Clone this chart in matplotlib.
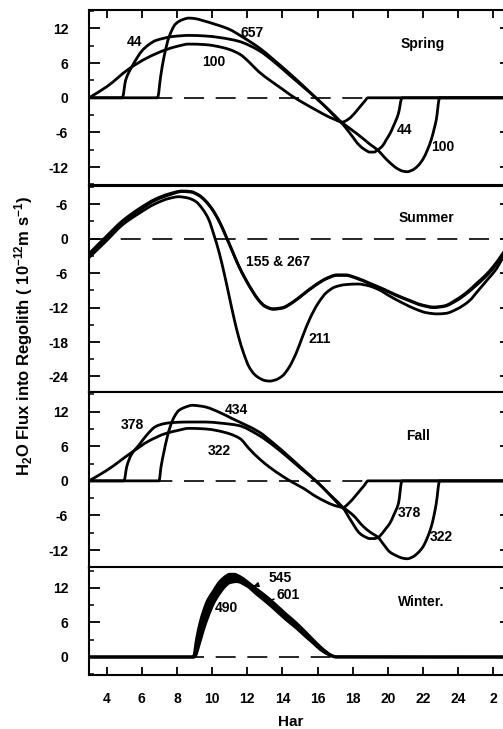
import numpy as np
import matplotlib
matplotlib.use("Agg")
import matplotlib.pyplot as plt
from matplotlib.path import Path
from matplotlib.patches import PathPatch
from matplotlib.ticker import FixedLocator, FixedFormatter, MultipleLocator

plt.rcParams['font.family'] = ['Liberation Sans', 'DejaVu Sans']
plt.rcParams['font.weight'] = 'bold'
plt.rcParams['mathtext.default'] = 'regular'

# ---- data (hour of day, flux in 1e-12 m/s) ----
# Spring
spring_657_h = [3, 6.9, 7.07, 7.26, 7.55, 7.93, 8.3, 8.68, 9.05, 9.44, 10.2, 10.95, 11.8, 12.7, 13.5,
                14.3, 15.1, 15.9, 16.6, 17.0, 17.4, 17.8, 18.1, 18.4, 18.65, 18.87, 27]
spring_657_v = [0, 0, 3.6, 7.0, 10.5, 12.8, 13.5, 13.8, 13.7, 13.4, 12.7, 11.9, 10.4, 8.6, 6.6,
                4.5, 2.3, 0, -2.0, -3.3, -4.2, -3.6, -2.7, -1.6, -0.7, 0, 0]
spring_44_h = [3, 4.9, 5.08, 5.25, 5.46, 5.75, 6.03, 6.4, 6.78, 7.25, 7.73, 8.7, 9.63, 10.5, 11.5,
               12.66, 13.5, 14.3, 15.1, 15.9, 16.6, 17.3, 17.83, 18.4, 18.7, 18.97, 19.2, 19.44,
               19.7, 19.9, 20.1, 20.3, 20.6, 20.8, 27]
spring_44_v = [0, 0, 3.0, 4.3, 5.5, 7.0, 8.2, 9.2, 9.9, 10.3, 10.6, 10.8, 10.7, 10.4, 9.8,
               8.2, 6.3, 4.2, 2.1, 0, -2.0, -4.1, -6.1, -8.3, -9.0, -9.4, -9.4, -9.0,
               -8.3, -7.3, -6.3, -5.0, -2.7, 0, 0]
spring_100_h = [3, 4, 5.27, 6.3, 7.35, 8.0, 8.68, 9.63, 10.3, 10.95, 11.6, 12.1, 12.66, 13.3, 14.0,
                14.6, 15.2, 15.9, 16.7, 17.3, 17.83, 18.6, 19.0, 19.44, 19.8, 20.1, 20.5, 20.85,
                21.1, 21.4, 21.7, 22.0, 22.25, 22.47, 22.62, 22.75, 22.94, 27]
spring_100_v = [0, 1.9, 5.0, 6.9, 8.3, 8.9, 9.3, 9.2, 8.9, 8.4, 7.5, 6.2, 4.5, 3.0, 1.5,
                0.2, -0.9, -2.1, -3.4, -4.2, -5.3, -7.1, -8.1, -9.1, -10.3, -11.2, -12.2, -12.7,
                -12.8, -12.5, -11.8, -10.6, -9.0, -7.2, -5.5, -3.8, 0, 0]

# Summer
summer_155_h = [3, 3.95, 4.9, 5.84, 6.78, 7.55, 8.3, 8.8, 9.25, 9.6, 10.0, 10.4, 10.77, 11.15, 11.5,
                11.9, 12.3, 12.66, 13.0, 13.47, 14.0, 14.6, 15.2, 15.9, 16.5, 17.1, 17.6, 18.2,
                19.0, 19.7, 20.4, 21.2, 21.9, 22.6, 23.2, 23.9, 24.5, 25.0, 25.5, 25.98, 26.5, 27]
summer_155_v = [-3.0, -0.1, 2.8, 4.9, 6.7, 7.6, 8.2, 8.1, 7.5, 6.6, 5.1, 3.0, 0.5, -2.2, -4.7,
                -7.1, -9.2, -10.8, -11.8, -12.3, -12.1, -11.1, -9.7, -8.1, -7.0, -6.4, -6.4, -6.9,
                -7.9, -8.8, -9.8, -10.8, -11.6, -12.0, -11.8, -10.8, -9.5, -8.2, -6.8, -5.2, -3.0, -0.8]
summer_267_h = [3, 3.95, 4.9, 5.84, 6.78, 7.55, 8.3, 8.8, 9.25, 9.6, 10.0, 10.4, 10.77, 11.15, 11.5,
                11.9, 12.3, 12.66, 13.0, 13.47, 14.0, 14.6, 15.2, 15.9, 16.5, 17.1, 17.6, 18.2,
                19.0, 19.7, 20.4, 21.2, 21.9, 22.6, 23.2, 23.9, 24.5, 25.0, 25.5, 25.98, 26.5, 27]
summer_267_v = [-2.6, 0.3, 3.1, 5.2, 6.9, 7.8, 8.3, 8.2, 7.6, 6.7, 5.2, 3.1, 0.6, -2.1, -4.6,
                -7.0, -9.1, -10.7, -11.7, -12.2, -12.0, -11.0, -9.6, -8.0, -6.9, -6.3, -6.3, -6.8,
                -7.8, -8.7, -9.7, -10.7, -11.5, -11.9, -11.7, -10.6, -9.3, -7.9, -6.5, -4.9, -2.7, -0.5]
summer_211_h = [3, 3.95, 4.9, 5.84, 6.78, 7.55, 8.1, 8.6, 9.06, 9.45, 9.8, 10.1, 10.4, 10.7, 10.95,
                11.25, 11.5, 11.8, 12.1, 12.4, 12.7, 13.0, 13.28, 13.6, 14.0, 14.4, 14.8, 15.15,
                15.55, 16.0, 16.5, 17.0, 17.6, 18.3, 18.9, 19.5, 20.1, 20.9, 21.6, 22.2, 22.8,
                23.3, 23.9, 24.6, 25.2, 25.7, 26.16, 26.5, 27]
summer_211_v = [-3.3, -0.5, 2.4, 4.4, 6.1, 7.0, 7.3, 7.1, 6.5, 5.2, 3.4, 0.7, -2.4, -6.2, -9.7,
                -13.9, -17.0, -20.0, -22.3, -23.6, -24.3, -24.7, -24.8, -24.6, -23.9, -22.3, -19.8, -17.0,
                -14.0, -11.4, -9.4, -8.4, -8.0, -7.9, -8.2, -8.9, -10.0, -11.3, -12.3, -12.9, -13.1,
                -13.0, -12.3, -10.9, -8.8, -7.0, -5.3, -3.5, -1.2]

# Fall
fall_434_h = [3, 6.98, 7.1, 7.26, 7.45, 7.64, 7.85, 8.11, 8.5, 8.87, 9.25, 9.63, 10.4, 11.14, 11.9,
              12.66, 13.5, 14.3, 15.1, 15.9, 16.6, 17.0, 17.45, 17.8, 18.1, 18.4, 18.65, 18.87, 27]
fall_434_v = [0, 0, 2.5, 5.0, 7.6, 9.6, 11.1, 12.2, 12.8, 13.1, 13.0, 12.8, 11.9, 10.8, 9.7,
              8.5, 6.5, 4.4, 2.2, 0, -2.1, -3.4, -4.6, -3.8, -2.8, -1.7, -0.8, 0, 0]
fall_378_h = [3, 4.99, 5.15, 5.4, 5.84, 6.3, 6.78, 7.25, 7.73, 8.7, 9.63, 10.5, 11.5, 12.66, 13.5,
              14.3, 15.1, 15.9, 16.6, 17.45, 17.9, 18.4, 18.7, 18.97, 19.2, 19.44, 19.7, 19.9,
              20.1, 20.35, 20.6, 20.8, 27]
fall_378_v = [0, 0, 2.5, 4.5, 6.2, 8.0, 9.4, 9.9, 10.1, 10.2, 10.2, 10.0, 9.6, 7.9, 6.1,
              4.1, 2.0, 0, -2.1, -4.7, -6.9, -9.1, -9.7, -10.0, -10.0, -9.8, -9.0, -8.2,
              -7.4, -5.8, -3.9, 0, 0]
fall_322_h = [3, 4, 5.46, 6.4, 7.35, 8.0, 8.68, 9.63, 10.3, 10.95, 11.6, 12.1, 12.66, 13.3, 14.04,
              14.6, 15.2, 15.9, 16.9, 17.45, 18.0, 18.6, 19.0, 19.44, 19.8, 20.1, 20.5, 20.85,
              21.1, 21.4, 21.7, 22.0, 22.25, 22.47, 22.62, 22.75, 22.94, 27]
fall_322_v = [0, 1.8, 5.0, 6.9, 8.2, 8.7, 9.1, 9.0, 8.7, 8.2, 7.3, 5.6, 3.9, 2.3, 0.75,
              -0.3, -1.3, -2.7, -4.2, -4.7, -5.9, -7.9, -8.9, -9.8, -11.2, -12.3, -13.0, -13.4,
              -13.5, -13.2, -12.5, -11.4, -9.8, -7.9, -6.0, -3.9, 0, 0]

# Winter
winter_545_h = [3, 8.93, 9.12, 9.3, 9.5, 9.75, 10.06, 10.35, 10.63, 10.85, 11.0, 11.25, 11.58, 12.0,
                12.5, 13.1, 13.66, 14.2, 14.8, 15.3, 15.75, 16.15, 16.5, 16.8, 17.07, 27]
winter_545_v = [0, 0, 3.2, 5.8, 7.9, 9.9, 11.4, 12.8, 13.7, 14.2, 14.4, 14.4, 14.0, 13.1,
                11.9, 10.5, 9.0, 7.5, 5.9, 4.4, 3.0, 1.8, 0.9, 0.3, 0.05, 0]
winter_601_h = [3, 8.96, 9.2, 9.4, 9.65, 9.9, 10.25, 10.55, 10.85, 11.1, 11.5, 12.0, 12.5, 13.1,
                13.66, 14.2, 14.8, 15.3, 15.75, 16.15, 16.5, 16.8, 17.03, 27]
winter_601_v = [0, 0, 2.7, 5.0, 7.3, 9.3, 11.3, 12.7, 13.5, 13.8, 13.6, 12.7, 11.4, 10.0,
                8.5, 7.0, 5.4, 4.0, 2.7, 1.5, 0.7, 0.2, 0, 0]
winter_490_h = [3, 9.0, 9.3, 9.5, 9.77, 10.1, 10.44, 10.75, 11.0, 11.4, 12.0, 12.5, 13.1, 13.66,
                14.2, 14.8, 15.3, 15.75, 16.15, 16.5, 16.8, 17.0, 27]
winter_490_v = [0, 0, 2.5, 4.6, 7.0, 9.4, 11.1, 12.3, 12.9, 13.1, 12.3, 11.0, 9.5, 8.0,
                6.5, 5.0, 3.6, 2.4, 1.3, 0.6, 0.2, 0, 0]

x_ticks = [4, 6, 8, 10, 12, 14, 16, 18, 20, 22, 24, 26]
x_labels = ['4', '6', '8', '10', '12', '14', '16', '18', '20', '22', '24', '2']

W, H = 503, 729
fig = plt.figure(figsize=(W / 100, H / 100), dpi=100)


def bezier_verts(h, v):
    # monotone cubic (pchip-style) tangents, written as Bezier control points
    x = np.asarray(h, float)
    y = np.asarray(v, float)
    dx = np.diff(x)
    d = np.diff(y) / dx
    m = np.zeros_like(y)
    m[0], m[-1] = d[0], d[-1]
    for k in range(1, len(x) - 1):
        if d[k - 1] * d[k] > 0:
            w1 = 2 * dx[k] + dx[k - 1]
            w2 = dx[k] + 2 * dx[k - 1]
            m[k] = (w1 + w2) / (w1 / d[k - 1] + w2 / d[k])
    verts = [(x[0], y[0])]
    for k in range(len(dx)):
        t = dx[k] / 3
        verts += [(x[k] + t, y[k] + m[k] * t), (x[k + 1] - t, y[k + 1] - m[k + 1] * t),
                  (x[k + 1], y[k + 1])]
    return verts


def curve(ax, h, v, lw=2.0):
    verts = bezier_verts(h, v)
    codes = [Path.MOVETO] + [Path.CURVE4] * (len(verts) - 1)
    ax.add_patch(PathPatch(Path(verts, codes), fill=False, edgecolor='black', lw=lw,
                           joinstyle='round', capstyle='butt', zorder=3))


def band(ax, h1, v1, h2, v2):
    a = bezier_verts(h1, v1)
    b = bezier_verts(h2, v2)[::-1]
    verts = a + b + [a[0]]
    codes = ([Path.MOVETO] + [Path.CURVE4] * (len(a) - 1) + [Path.LINETO]
             + [Path.CURVE4] * (len(b) - 1) + [Path.CLOSEPOLY])
    ax.add_patch(PathPatch(Path(verts, codes), facecolor='black', edgecolor='none', zorder=3))


def panel(top, bottom, ylim, yticks, ylabels):
    # pixel box -> figure fraction
    ax = fig.add_axes([89 / W, 1 - bottom / H, (511 - 89) / W, (bottom - top) / H])
    ax.set_xlim(3, 27)
    ax.set_ylim(*ylim)
    for s in ax.spines.values():
        s.set_linewidth(1.5)
    ax.yaxis.set_major_locator(FixedLocator(yticks))
    ax.yaxis.set_major_formatter(FixedFormatter(ylabels))
    ax.yaxis.set_minor_locator(MultipleLocator(3))
    ax.tick_params(axis='y', which='major', direction='in', length=8, width=1.3,
                   left=True, right=True, labelsize=10, pad=15)
    ax.tick_params(axis='y', which='minor', direction='in', length=3.6, width=1.1,
                   left=True, right=False)
    ax.set_xticks(x_ticks)
    ax.tick_params(axis='x', direction='in', length=6, width=1.3, top=False, bottom=False,
                   labelbottom=False, labelsize=10, pad=12)
    ax.axhline(0, color='black', lw=1.2, ls=(0, (12, 7)), zorder=1)
    return ax


fs = 10

# Spring
ax1 = panel(10, 185, (-15.1, 15.2), [-12, -6, 0, 6, 12], ['-12', '-6', '0', '6', '12'])
ax1.tick_params(axis='x', top=True)
curve(ax1, spring_657_h, spring_657_v)
curve(ax1, spring_44_h, spring_44_v)
curve(ax1, spring_100_h, spring_100_v)
ax1.text(5.6, 9.6, '44', fontsize=fs, ha='center', va='center')
ax1.text(12.25, 11.3, '657', fontsize=fs, ha='center', va='center')
ax1.text(10.1, 6.2, '100', fontsize=fs, ha='center', va='center')
ax1.text(20.95, -5.5, '44', fontsize=fs, ha='center', va='center')
ax1.text(23.1, -8.5, '100', fontsize=fs, ha='center', va='center')
ax1.text(22.0, 9.3, 'Spring', fontsize=fs, ha='center', va='center')

# Summer
ax2 = panel(186, 392, (-26.7, 9.17), [-24, -18, -12, -6, 0, 6],
            ['-24', '-18', '-12', '-6', '0', '-6'])
curve(ax2, summer_155_h, summer_155_v)
curve(ax2, summer_267_h, summer_267_v)
curve(ax2, summer_211_h, summer_211_v)
ax2.text(13.75, -4.0, '155 & 267', fontsize=fs, ha='center', va='center')
ax2.text(16.1, -17.4, '211', fontsize=fs, ha='center', va='center')
ax2.text(22.2, 3.65, 'Summer', fontsize=fs, ha='center', va='center')

# Fall
ax3 = panel(392, 568, (-15.1, 15.4), [-12, -6, 0, 6, 12], ['-12', '-6', '0', '6', '12'])
curve(ax3, fall_434_h, fall_434_v)
curve(ax3, fall_378_h, fall_378_v)
curve(ax3, fall_322_h, fall_322_v)
ax3.text(5.46, 9.7, '378', fontsize=fs, ha='center', va='center')
ax3.text(11.4, 12.3, '434', fontsize=fs, ha='center', va='center')
ax3.text(10.4, 5.15, '322', fontsize=fs, ha='center', va='center')
ax3.text(21.24, -5.6, '378', fontsize=fs, ha='center', va='center')
ax3.text(23.05, -9.7, '322', fontsize=fs, ha='center', va='center')
ax3.text(21.7, 7.7, 'Fall', fontsize=fs, ha='center', va='center')

# Winter
ax4 = panel(567, 675, (-3.13, 15.65), [0, 6, 12], ['0', '6', '12'])
ax4.tick_params(axis='x', bottom=True, labelbottom=True)
ax4.set_xticklabels(x_labels)
band(ax4, winter_545_h, winter_545_v, winter_490_h, winter_490_v)
curve(ax4, winter_545_h, winter_545_v, lw=2.0)
curve(ax4, winter_601_h, winter_601_v, lw=2.0)
curve(ax4, winter_490_h, winter_490_v, lw=2.0)
ax4.annotate('545', xy=(12.35, 12.3), xytext=(13.85, 13.7), fontsize=fs, ha='center', va='center',
             arrowprops=dict(arrowstyle='-|>', color='black', lw=1.0, mutation_scale=7,
                             shrinkA=8, shrinkB=0))
ax4.annotate('601', xy=(13.0, 9.6), xytext=(14.35, 10.8), fontsize=fs, ha='center', va='center',
             arrowprops=dict(arrowstyle='-|>', color='black', lw=1.0, mutation_scale=7,
                             shrinkA=8, shrinkB=0))
ax4.text(10.8, 8.5, '490', fontsize=fs, ha='center', va='center')
ax4.text(21.9, 9.6, 'Winter.', fontsize=fs, ha='center', va='center')

fig.text(24 / W, 1 - 336 / H, r'H$_2$O Flux into Regolith ( 10$^{-12}$m s$^{-1}$)',
         rotation=90, ha='center', va='center', fontsize=12)
fig.text(291 / W, 1 - 722 / H, 'Har', ha='center', va='center', fontsize=11)

fig.savefig('out.png', dpi=100)
